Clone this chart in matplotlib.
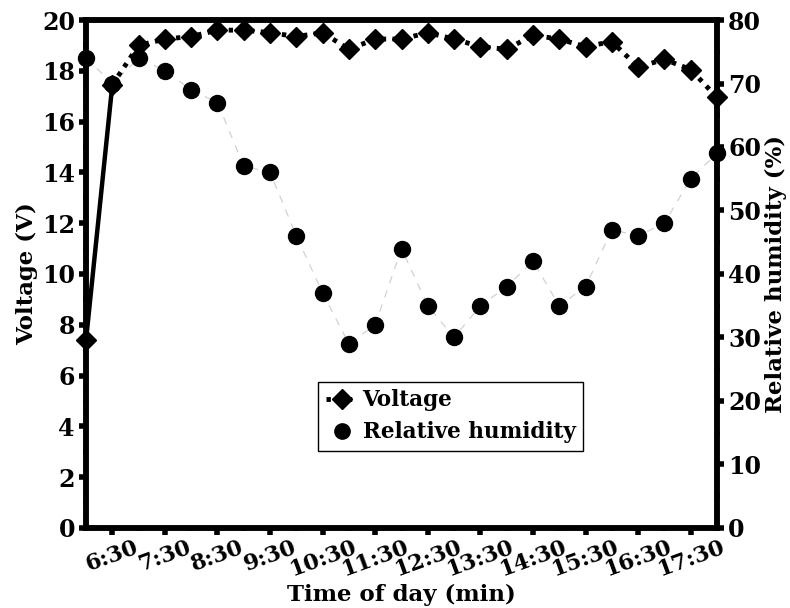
import matplotlib
matplotlib.use("Agg")
import matplotlib.pyplot as plt
from matplotlib.ticker import MultipleLocator, FixedLocator
from matplotlib.lines import Line2D
from matplotlib.transforms import ScaledTranslation

plt.rcParams['font.family'] = ['DejaVu Serif']
plt.rcParams['font.weight'] = 'bold'

# Data: 30-min steps from 6:00 to 18:00
time_index = list(range(25))
tick_labels = ["6:30", "7:30", "8:30", "9:30", "10:30", "11:30", "12:30",
               "13:30", "14:30", "15:30", "16:30", "17:30"]
voltage = [7.4, 17.45, 19.0, 19.25, 19.35, 19.6, 19.6, 19.5, 19.35, 19.5,
           18.85, 19.25, 19.25, 19.5, 19.25, 18.95, 18.85, 19.4, 19.25,
           18.95, 19.15, 18.15, 18.45, 18.05, 16.95]
humidity = [74, 70, 74, 72, 69, 67, 57, 56, 46, 37, 29, 32, 44, 35, 30, 35,
            38, 42, 35, 38, 47, 46, 48, 55, 59]

fig = plt.figure(figsize=(7.9, 6.08), dpi=100)
ax = fig.add_axes([0.1089, 0.1316, 0.7987, 0.8355])
ax2 = ax.twinx()

# Humidity (right axis)
ax2.plot(time_index, humidity, color='#d2d2d2', lw=0.9, dashes=(6, 6),
         zorder=1)
ax2.plot(time_index, humidity, ls='none', marker='o', ms=11.5, color='black',
         zorder=2, clip_on=False)

# Voltage (left axis) drawn on top
ax.set_zorder(ax2.get_zorder() + 1)
ax.patch.set_visible(False)
ax.plot(time_index[:2], voltage[:2], color='black', lw=3.2,
        solid_capstyle='butt', zorder=3, clip_on=False)
ax.plot(time_index[1:], voltage[1:], color='black', lw=3.5, dashes=(0.9, 1.3),
        zorder=3, clip_on=False)
ax.plot(time_index, voltage, ls='none', marker='D', ms=10, color='black',
        zorder=4, clip_on=False)

ax.set_xlim(0, 24)
ax.set_ylim(0, 20)
ax2.set_ylim(0, 80)

ax.xaxis.set_major_locator(FixedLocator(list(range(1, 24, 2))))
ax.xaxis.set_minor_locator(FixedLocator(list(range(0, 25, 2))))
ax.set_xticklabels(tick_labels, rotation=20, ha='center', fontsize=16,
                   fontweight='bold')
offset = ScaledTranslation(6 / 100, 0, fig.dpi_scale_trans)
for lab in ax.get_xticklabels():
    lab.set_transform(lab.get_transform() + offset)

ax.yaxis.set_major_locator(MultipleLocator(2))
ax.yaxis.set_minor_locator(MultipleLocator(1))
ax2.yaxis.set_major_locator(MultipleLocator(10))
ax2.yaxis.set_minor_locator(MultipleLocator(5))

for a in (ax, ax2):
    for s in a.spines.values():
        s.set_linewidth(4)
    a.tick_params(which='major', length=5, width=4, direction='out',
                  labelsize=17, pad=3)
    a.tick_params(which='minor', length=2, width=3, direction='out')
    for lab in a.get_yticklabels():
        lab.set_fontweight('bold')
ax.tick_params(axis='x', labelsize=16, pad=1)

ax.set_xlabel('Time of day (min)', fontsize=16.5, fontweight='bold',
              labelpad=2)
ax.set_ylabel('Voltage (V)', fontsize=16.5, fontweight='bold', labelpad=3)
ax2.set_ylabel('Relative humidity (%)', fontsize=16.5, fontweight='bold',
               labelpad=3)

handles = [Line2D([], [], color='black', lw=3.5, dashes=(0.9, 1.3),
                  marker='D', ms=10),
           Line2D([], [], ls='none', marker='o', ms=11, color='black')]
leg = ax.legend(handles, ['Voltage', 'Relative humidity'],
                loc='center', bbox_to_anchor=(0.578, 0.22),
                prop={'weight': 'bold', 'size': 15.5},
                frameon=True, fancybox=False, handlelength=1.5,
                handletextpad=0.2, borderpad=0.35, labelspacing=0.45,
                borderaxespad=0, framealpha=1)
leg.get_frame().set_edgecolor('black')
leg.get_frame().set_linewidth(1.0)

fig.savefig('out.png', dpi=100)
